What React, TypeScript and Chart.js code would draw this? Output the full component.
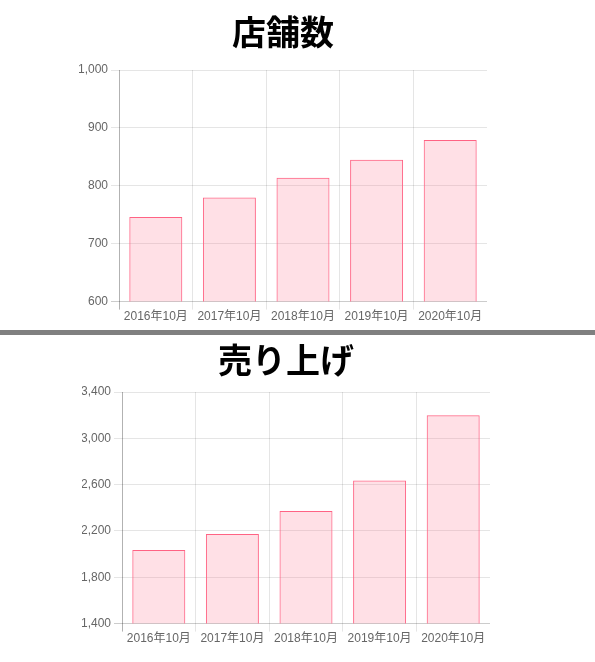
import { useEffect, useLayoutEffect, useRef } from 'react';
import { Chart, registerables } from 'chart.js';

Chart.register(...registerables);

const months = ['2016年10月', '2017年10月', '2018年10月', '2019年10月', '2020年10月'];
const storeCounts = [746, 780, 814, 845, 879];
const sales = [2035, 2174, 2373, 2635, 3200];

const TICK_FONT = { family: '"Liberation Sans", Arial, "Noto Sans CJK JP", sans-serif', size: 12 };
const TITLE_FONT = { family: '"Noto Sans CJK JP", sans-serif', size: 34, weight: 'bold' as const, lineHeight: 1 };

type BarProps = {
  title: string;
  values: number[];
  min: number;
  max: number;
  step: number;
  width: number;
  height: number;
  axisWidth: number;
  titlePad: { top: number; bottom: number };
  padding: { left: number; right: number; top: number; bottom: number };
};

function BarChart(props: BarProps) {
  const canvasRef = useRef<HTMLCanvasElement | null>(null);

  useEffect(() => {
    if (!canvasRef.current) return;
    const chart = new Chart(canvasRef.current, {
      type: 'bar',
      data: {
        labels: months,
        datasets: [
          {
            data: props.values,
            backgroundColor: 'rgba(255, 99, 132, 0.2)',
            borderColor: 'rgb(255, 99, 132)',
            borderWidth: 1,
          },
        ],
      },
      options: {
        animation: false,
        responsive: true,
        maintainAspectRatio: false,
        layout: { padding: props.padding },
        plugins: {
          legend: { display: false },
          tooltip: { enabled: false },
          title: {
            display: true,
            text: props.title,
            color: '#000',
            font: TITLE_FONT,
            padding: props.titlePad,
          },
        },
        scales: {
          x: {
            border: { display: false },
            grid: {
              offset: true,
              // first line darker like the old zero line, the closing right line hidden
              color: (ctx: any) =>
                ctx.type !== 'tick' ? 'rgba(0,0,0,0)' : ctx.index === 0 ? 'rgba(0,0,0,0.3)' : 'rgba(0,0,0,0.1)',
            },
            ticks: { color: '#666', font: TICK_FONT, maxRotation: 0, padding: 0 },
          },
          y: {
            min: props.min,
            max: props.max,
            border: { display: false },
            afterFit: (scale: any) => {
              scale.width = props.axisWidth;
            },
            grid: {
              color: (ctx: any) => (ctx.index === 0 ? 'rgba(0,0,0,0.2)' : 'rgba(0,0,0,0.1)'),
            },
            ticks: {
              stepSize: props.step,
              color: '#666',
              font: TICK_FONT,
              callback: (v: any) => Number(v).toLocaleString('en-US'),
            },
          },
        },
      } as any,
    });
    return () => chart.destroy();
  }, []);

  return (
    <div style={{ position: 'relative', width: props.width, height: props.height }}>
      <canvas ref={canvasRef} />
    </div>
  );
}

export default function App() {
  // move the body margin onto the wrapper so the divider can run edge to edge
  useLayoutEffect(() => {
    document.body.style.margin = '0';
  }, []);

  return (
    <div style={{ padding: 8 }}>
      <BarChart
        title="店舗数"
        values={storeCounts}
        min={600}
        max={1000}
        step={100}
        width={548}
        height={322}
        axisWidth={40}
        titlePad={{ top: 7, bottom: 21 }}
        padding={{ left: 71, right: 69, top: 0, bottom: 6 }}
      />
      <div style={{ margin: '0 -8px', height: 5, background: '#808080' }} />
      <BarChart
        title="売り上げ"
        values={sales}
        min={1400}
        max={3400}
        step={400}
        width={566}
        height={327}
        axisWidth={40}
        titlePad={{ top: 8, bottom: 15 }}
        padding={{ left: 74, right: 84, top: 0, bottom: 16 }}
      />
    </div>
  );
}
